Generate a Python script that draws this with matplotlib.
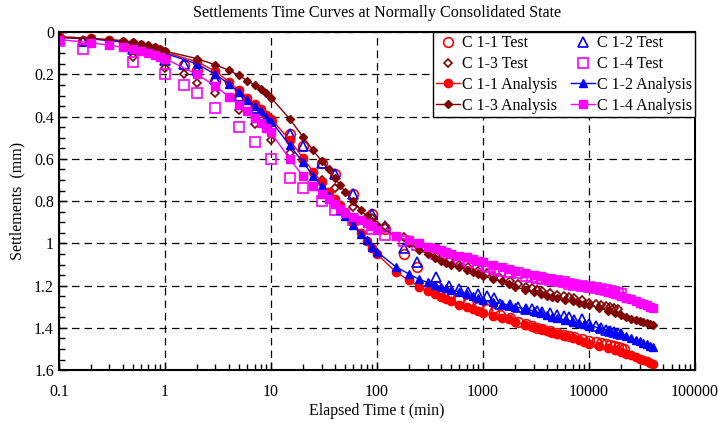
import matplotlib.pyplot as plt
from matplotlib.ticker import LogLocator, NullFormatter
import numpy as np

# elapsed time (min) for analysis curves
t_an = [0.1, 0.2, 0.3, 0.4, 0.5, 0.6, 0.7, 0.8, 0.9, 1,
        2, 3, 4, 5, 6, 7, 8, 9, 10,
        15, 20, 25, 30, 35, 40, 45, 50, 60, 70, 80, 90, 100,
        150, 200, 250, 300, 350, 400, 450, 500, 600, 700, 800, 900, 1000,
        1250, 1500, 1750, 2000, 2500, 3000, 3500, 4000, 4500, 5000, 6000, 7000, 8000, 9000, 10000,
        12500, 15000, 17500, 20000, 22500, 25000, 27500, 30000, 32500, 35000, 37500, 40000]

c11_an = [0.020, 0.030, 0.038, 0.045, 0.052, 0.060, 0.068, 0.076, 0.085, 0.095,
          0.140, 0.185, 0.235, 0.275, 0.310, 0.340, 0.365, 0.390, 0.410,
          0.510, 0.595, 0.660, 0.710, 0.755, 0.790, 0.820, 0.850, 0.900, 0.950, 0.990, 1.020, 1.050,
          1.135, 1.175, 1.205, 1.225, 1.240, 1.255, 1.265, 1.275, 1.290, 1.300, 1.310, 1.320, 1.330,
          1.343, 1.352, 1.360, 1.370, 1.385, 1.395, 1.405, 1.415, 1.422, 1.430, 1.440, 1.450, 1.458, 1.466, 1.475,
          1.488, 1.497, 1.505, 1.515, 1.523, 1.530, 1.537, 1.545, 1.552, 1.558, 1.564, 1.570]

c12_an = [0.025, 0.032, 0.040, 0.047, 0.055, 0.063, 0.071, 0.080, 0.090, 0.100,
          0.150, 0.200, 0.245, 0.285, 0.320, 0.350, 0.375, 0.400, 0.420,
          0.535, 0.615, 0.680, 0.730, 0.775, 0.810, 0.840, 0.870, 0.915, 0.955, 0.985, 1.015, 1.040,
          1.110, 1.145, 1.170, 1.185, 1.195, 1.205, 1.212, 1.220, 1.230, 1.240, 1.250, 1.260, 1.270,
          1.278, 1.285, 1.292, 1.300, 1.310, 1.320, 1.330, 1.340, 1.348, 1.355, 1.362, 1.370, 1.376, 1.383, 1.390,
          1.400, 1.410, 1.420, 1.430, 1.440, 1.448, 1.456, 1.464, 1.472, 1.478, 1.484, 1.490]

c13_an = [0.025, 0.030, 0.035, 0.040, 0.047, 0.055, 0.062, 0.070, 0.080, 0.090,
          0.125, 0.155, 0.180, 0.205, 0.230, 0.250, 0.270, 0.290, 0.310,
          0.410, 0.495, 0.560, 0.610, 0.650, 0.690, 0.725, 0.755, 0.800, 0.840, 0.870, 0.895, 0.915,
          0.965, 1.000, 1.030, 1.050, 1.068, 1.082, 1.093, 1.100, 1.113, 1.125, 1.135, 1.145, 1.155,
          1.168, 1.180, 1.190, 1.205, 1.220, 1.232, 1.240, 1.248, 1.255, 1.260, 1.268, 1.275, 1.281, 1.286, 1.290,
          1.305, 1.318, 1.330, 1.340, 1.348, 1.356, 1.363, 1.369, 1.374, 1.378, 1.382, 1.386]

c14_an = [0.035, 0.050, 0.062, 0.072, 0.080, 0.090, 0.100, 0.108, 0.117, 0.125,
          0.200, 0.255, 0.305, 0.345, 0.375, 0.405, 0.430, 0.455, 0.475,
          0.600, 0.680, 0.730, 0.765, 0.790, 0.815, 0.835, 0.855, 0.875, 0.890, 0.905, 0.920, 0.935,
          0.965, 0.985, 1.000, 1.015, 1.022, 1.030, 1.040, 1.048, 1.058, 1.065, 1.075, 1.082, 1.090,
          1.100, 1.110, 1.120, 1.130, 1.140, 1.150, 1.155, 1.162, 1.170, 1.180, 1.185, 1.190, 1.195, 1.200, 1.205,
          1.215, 1.228, 1.240, 1.250, 1.258, 1.265, 1.273, 1.280, 1.287, 1.293, 1.299, 1.305]

# elapsed time (min) for test readings
t_test = [0.1, 0.17, 0.5, 1, 1.5, 2, 3, 5, 7, 10, 15, 20, 30, 40, 60, 90, 120, 180, 240, 360, 480,
          600, 720, 900, 1080, 1260, 1440, 1800, 2160, 2520, 2880, 3240, 3600, 4320, 5040, 5760,
          6480, 7200, 8640, 10080, 11520, 12960, 14400, 15840, 17280, 18720, 20160, 21600]

c11_test = [0.03, 0.04, 0.07, 0.12, 0.155, 0.18, 0.23, 0.30, 0.36, 0.42, 0.48, 0.54, 0.62, 0.67, 0.765,
            0.86, 0.93, 1.05, 1.11, 1.20, 1.24, 1.265, 1.28, 1.30, 1.31, 1.325, 1.34, 1.355, 1.37, 1.38,
            1.39, 1.40, 1.405, 1.415, 1.425, 1.435, 1.44, 1.445, 1.455, 1.46, 1.465, 1.47, 1.475, 1.48,
            1.485, 1.49, 1.495, 1.50]

c12_test = [0.03, 0.04, 0.08, 0.13, 0.15, 0.18, 0.22, 0.30, 0.36, 0.42, 0.48, 0.54, 0.62, 0.67, 0.765,
            0.86, 0.92, 1.02, 1.09, 1.16, 1.20, 1.215, 1.23, 1.24, 1.25, 1.26, 1.285, 1.29, 1.30, 1.31,
            1.31, 1.32, 1.325, 1.33, 1.34, 1.345, 1.35, 1.365, 1.36, 1.38, 1.39, 1.40, 1.41, 1.415,
            1.42, 1.425, 1.43]

c13_test = [0.03, 0.04, 0.12, 0.17, 0.20, 0.24, 0.29, 0.37, 0.435, 0.51, 0.57, 0.61, 0.70, 0.74, 0.83,
            0.88, 0.92, 0.97, 1.01, 1.06, 1.08, 1.10, 1.11, 1.13, 1.14, 1.155, 1.165, 1.18, 1.19, 1.205,
            1.21, 1.22, 1.225, 1.235, 1.245, 1.25, 1.255, 1.26, 1.27, 1.28, 1.285, 1.29, 1.295, 1.30,
            1.305, 1.31]

c14_test = [0.04, 0.08, 0.14, 0.20, 0.25, 0.29, 0.36, 0.45, 0.52, 0.60, 0.69, 0.74, 0.80, 0.84, 0.89,
            0.93, 0.96, 0.99, 1.01, 1.05, 1.07, 1.08, 1.09, 1.10, 1.11, 1.12, 1.13, 1.135, 1.14, 1.155,
            1.16, 1.165, 1.17, 1.175, 1.18, 1.185, 1.19, 1.195, 1.20, 1.205, 1.21, 1.215, 1.22, 1.225,
            1.23, 1.235, 1.24]

plt.rcParams['font.family'] = ['Liberation Serif', 'DejaVu Serif']

fig = plt.figure(figsize=(7.18, 4.23), dpi=100)
ax = fig.add_axes([0.082, 0.125, 0.886, 0.799])

red, blue, maroon, magenta = '#FF0000', '#0000FF', '#800000', '#FF00FF'

h = {}
h['t1'], = ax.plot(t_test[:len(c11_test)], c11_test, 'o', mfc='none', mec=red, ms=7, mew=1.2, label='C 1-1 Test')
h['t2'], = ax.plot(t_test[:len(c12_test)], c12_test, '^', mfc='none', mec=blue, ms=7, mew=1.2, label='C 1-2 Test')
h['t3'], = ax.plot(t_test[:len(c13_test)], c13_test, 'D', mfc='none', mec=maroon, ms=4, mew=1.2, label='C 1-3 Test')
h['t4'], = ax.plot(t_test[:len(c14_test)], c14_test, 's', mfc='none', mec=magenta, ms=7, mew=1.2, label='C 1-4 Test')

h['a1'], = ax.plot(t_an, c11_an, '-o', color=red, ms=6, lw=1, label='C 1-1 Analysis')
h['a2'], = ax.plot(t_an, c12_an, '-^', color=blue, ms=5.5, lw=1, label='C 1-2 Analysis')
h['a3'], = ax.plot(t_an, c13_an, '-D', color=maroon, ms=4, lw=1, label='C 1-3 Analysis')
h['a4'], = ax.plot(t_an, c14_an, '-s', color=magenta, ms=5.5, lw=1, label='C 1-4 Analysis')

ax.set_xscale('log')
ax.set_xlim(0.1, 100000)
ax.set_ylim(1.6, 0)
ax.set_xticks([0.1, 1, 10, 100, 1000, 10000, 100000])
ax.set_xticklabels(['0.1', '1', '10', '100', '1000', '10000', '100000'])
ax.xaxis.set_minor_locator(LogLocator(base=10, subs=np.arange(2, 10), numticks=20))
ax.xaxis.set_minor_formatter(NullFormatter())
ax.set_yticks(np.arange(0, 1.61, 0.2))
ax.set_yticklabels(['0', '0.2', '0.4', '0.6', '0.8', '1', '1.2', '1.4', '1.6'])
ax.set_yticks(np.arange(0, 1.61, 0.05), minor=True)
ax.tick_params(which='both', direction='in', labelsize=11.5, top=False, right=False)
ax.tick_params(which='major', length=6, width=1)
ax.tick_params(which='minor', length=4, width=1)
ax.tick_params(axis='x', pad=10)
ax.grid(True, which='major', color='black', linestyle=(0, (6, 4)), lw=0.9)
for s in ax.spines.values():
    s.set_linewidth(1.5)

ax.set_title('Settlements Time Curves at Normally Consolidated State', fontsize=11.6, pad=11)
ax.set_xlabel('Elapsed Time t (min)', fontsize=11.5, labelpad=2)
ax.set_ylabel('Settlements  (mm)', fontsize=11.5, labelpad=6)

order = ['t1', 't3', 'a1', 'a3', 't2', 't4', 'a2', 'a4']
leg = ax.legend([h[k] for k in order], [h[k].get_label() for k in order], ncol=2,
                loc='upper right', bbox_to_anchor=(1.0, 1.0), fontsize=11.5, frameon=True,
                fancybox=False, edgecolor='black', framealpha=1, borderpad=0.2,
                labelspacing=0.3, handlelength=1.5, handletextpad=0.1, columnspacing=0.9,
                borderaxespad=0)
leg.get_frame().set_linewidth(1.0)

fig.savefig('out.png', dpi=100)
